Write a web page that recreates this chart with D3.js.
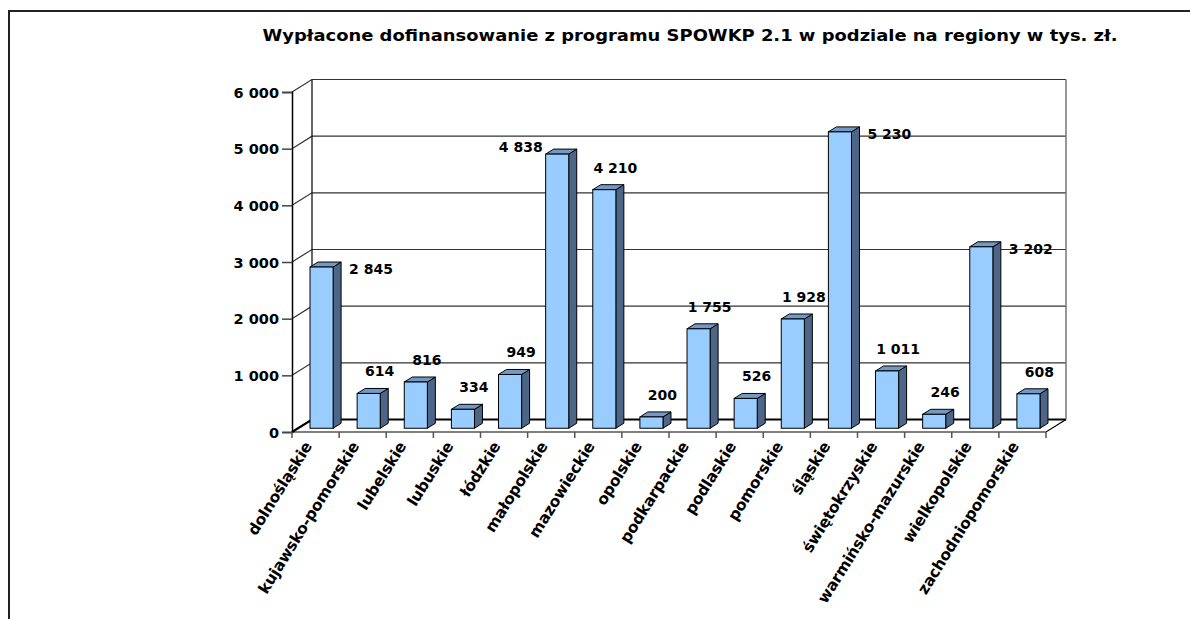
<!DOCTYPE html>
<html>
<head>
<meta charset="utf-8">
<script src="https://cdn.jsdelivr.net/npm/d3@7"></script>
<style>
  body { margin: 0; background: #fff; }
  text { font-family: "DejaVu Sans", sans-serif; font-weight: bold; fill: #000; }
</style>
</head>
<body>
<script>
var width = 1190, height = 619;

var title = "Wypłacone dofinansowanie z programu SPOWKP 2.1 w podziale na regiony w tys. zł.";
var regions = ["dolnośląskie", "kujawsko-pomorskie", "lubelskie", "lubuskie", "łódzkie",
  "małopolskie", "mazowieckie", "opolskie", "podkarpackie", "podlaskie", "pomorskie",
  "śląskie", "świętokrzyskie", "warmińsko-mazurskie", "wielkopolskie", "zachodniopomorskie"];
var values = [2845, 614, 816, 334, 949, 4838, 4210, 200, 1755, 526, 1928, 5230, 1011, 246, 3202, 608];
var yTicks = [0, 1000, 2000, 3000, 4000, 5000, 6000];
// where excel put each value label relative to its bar
var labelSide = ["right", "top", "top", "top", "top", "left", "top", "top",
  "top", "top", "top", "right", "top", "top", "right", "top"];

var depthX = 20, depthY = 12.5;   // 3d wall depth
var barDepth0 = 0.3, barDepth1 = 0.7;

var x = d3.scaleBand().domain(regions).range([292, 1046]);
var y = d3.scaleLinear().domain([0, 6000]).range([432, 92]);
var fmt = (v) => d3.format(",")(v).replace(/,/g, " ");

var svg = d3.select("body").append("svg")
  .attr("width", width)
  .attr("height", height);

// frame (only top and left edges are visible)
svg.append("path")
  .attr("d", "M9,619 L9,11 L1190,11")
  .style("fill", "none").style("stroke", "#222").style("stroke-width", 2);

// title is drawn wide in the original, stretch it to the same span
svg.append("text")
  .attr("x", 690).attr("y", 41)
  .attr("text-anchor", "middle")
  .attr("textLength", 855)
  .attr("lengthAdjust", "spacingAndGlyphs")
  .style("font-size", "15px")
  .text(title);

var x0 = x.range()[0], x1 = x.range()[1];
var walls = svg.append("g");

// back wall gridlines + left wall diagonals
walls.selectAll(".grid")
  .data(yTicks)
  .enter()
  .append("path")
  .attr("d", (d) => "M" + x0 + "," + y(d) + " L" + (x0 + depthX) + "," + (y(d) - depthY) +
    " L" + (x1 + depthX) + "," + (y(d) - depthY))
  .style("fill", "none")
  .style("stroke", (d) => d == 0 ? "#000" : "#333")
  .style("stroke-width", (d) => d == 0 ? 2.2 : 1.2);

walls.append("path")
  .attr("d", "M" + (x0 + depthX) + "," + (y(0) - depthY) + " L" + (x0 + depthX) + "," + (y(6000) - depthY))
  .style("stroke", "#000").style("stroke-width", 1.2);
walls.append("path")
  .attr("d", "M" + (x1 + depthX) + "," + (y(0) - depthY) + " L" + (x1 + depthX) + "," + (y(6000) - depthY))
  .style("stroke", "#777").style("stroke-width", 1.5);
// floor front edge + right edge
walls.append("path")
  .attr("d", "M" + x0 + "," + y(0) + " L" + x1 + "," + y(0) + " L" + (x1 + depthX) + "," + (y(0) - depthY))
  .style("fill", "none").style("stroke", "#000").style("stroke-width", 1.2);

// y axis
var yAxis = svg.append("g").attr("transform", "translate(" + x0 + ",0)")
  .call(d3.axisLeft(y).tickValues(yTicks).tickFormat(fmt).tickSize(10).tickPadding(3));
yAxis.select(".domain").style("stroke", "#000").style("stroke-width", 1.5);
yAxis.selectAll(".tick line").style("stroke", "#444").style("stroke-width", 1.5);
yAxis.selectAll("text").style("font-size", "14.5px").style("font-family", null)
  .attr("dy", "0.36em");

// x axis ticks at category boundaries
var bounds = regions.map((r) => x(r)).concat([x1]);
svg.append("g").selectAll(".xtick")
  .data(bounds)
  .enter()
  .append("line")
  .attr("x1", (d) => d).attr("x2", (d) => d)
  .attr("y1", y(0)).attr("y2", y(0) + 6)
  .style("stroke", "#555").style("stroke-width", 1.5);

svg.append("g").selectAll(".xlabel")
  .data(regions)
  .enter()
  .append("text")
  .attr("text-anchor", "end")
  .attr("transform", (d) => "translate(" + (x(d) + x.bandwidth() / 2 - 3) + "," + 446 + ") rotate(-58)")
  .style("font-size", "15.5px")
  .style("letter-spacing", "-0.2px")
  .text((d) => d);

// bars
var bw = x.bandwidth() * 0.49;
var bars = regions.map((r, i) => {
  var fx = x(r) + (x.bandwidth() - bw) / 2 + depthX * barDepth0;
  var fy0 = y(0) - depthY * barDepth0;
  var top = fy0 - (y(0) - y(values[i]));
  return {name: r, value: values[i], side: labelSide[i], fx: fx, fy0: fy0, top: top};
});
var dx = depthX * (barDepth1 - barDepth0), dy = depthY * (barDepth1 - barDepth0);

var bar = svg.append("g").selectAll(".bar")
  .data(bars)
  .enter()
  .append("g");

bar.append("path")
  .attr("d", (d) => "M" + (d.fx + bw) + "," + d.fy0 + " L" + (d.fx + bw + dx) + "," + (d.fy0 - dy) +
    " L" + (d.fx + bw + dx) + "," + (d.top - dy) + " L" + (d.fx + bw) + "," + d.top + " Z")
  .style("fill", "#4d6587").style("stroke", "#000").style("stroke-width", 1);
bar.append("path")
  .attr("d", (d) => "M" + d.fx + "," + d.top + " L" + (d.fx + dx) + "," + (d.top - dy) +
    " L" + (d.fx + bw + dx) + "," + (d.top - dy) + " L" + (d.fx + bw) + "," + d.top + " Z")
  .style("fill", "#7399c6").style("stroke", "#000").style("stroke-width", 1);
bar.append("rect")
  .attr("x", (d) => d.fx)
  .attr("y", (d) => d.top)
  .attr("width", bw)
  .attr("height", (d) => d.fy0 - d.top)
  .style("fill", "#99ccff").style("stroke", "#000").style("stroke-width", 1);

// value labels
svg.append("g").selectAll(".value")
  .data(bars)
  .enter()
  .append("text")
  .attr("x", (d) => d.side == "top" ? d.fx + bw / 2 + 11 : d.side == "right" ? d.fx + bw + dx + 8 : d.fx - 3)
  .attr("y", (d) => d.side == "top" ? d.top - 17 : d.side == "right" ? d.top + 7 : d.top - 2)
  .attr("text-anchor", (d) => d.side == "top" ? "middle" : d.side == "right" ? "start" : "end")
  .style("font-size", "14px")
  .text((d) => fmt(d.value));
</script>
</body>
</html>
